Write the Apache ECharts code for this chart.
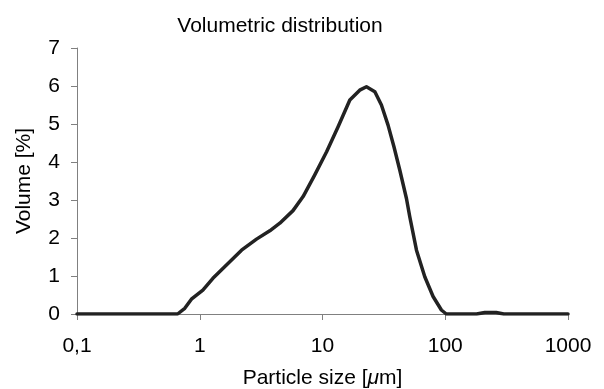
<!DOCTYPE html>
<html>
<head>
<meta charset="utf-8">
<script src="https://cdn.jsdelivr.net/npm/echarts@6/dist/echarts.min.js"></script>
<style>html,body{margin:0;padding:0;background:#fff}#c{width:604px;height:389px}</style>
</head>
<body>
<div id="c"></div>
<script>
const sizes = [0.1, 0.66, 0.755, 0.855, 1.06, 1.28, 1.65, 2.19, 2.9, 3.72, 4.49, 5.75, 6.95, 8.65, 10.8, 13.4, 16.7, 20.1, 22.8, 26.7, 30.2, 34.2, 38.2, 42.6, 48.3, 51.4, 58.3, 68.1, 79.6, 93, 102, 180, 210, 260, 300, 1000];
const volumes = [0, 0, 0.15, 0.39, 0.63, 0.94, 1.29, 1.68, 1.97, 2.19, 2.39, 2.72, 3.09, 3.66, 4.27, 4.93, 5.63, 5.89, 5.98, 5.85, 5.5, 4.97, 4.40, 3.79, 3.04, 2.56, 1.68, 0.98, 0.46, 0.105, 0, 0, 0.04, 0.04, 0, 0];
const xTicks = [0.1, 1, 10, 100, 1000];
const titleText = 'Volumetric distribution';
const xName = 'Particle size [{i|μ}m]';
const yName = 'Volume [%]';

const chart = echarts.init(document.getElementById('c'), null, {renderer: 'canvas'});
const font = 'Liberation Sans, Arial, sans-serif';
const fs = 21;
chart.setOption({
  animation: false,
  title: {
    text: titleText, left: 275, top: 11, textAlign: 'center',
    textStyle: {fontFamily: font, fontSize: fs, fontWeight: 'normal', color: '#000'}
  },
  grid: {left: 77, right: 36, top: 48, bottom: 75, containLabel: false, outerBoundsMode: 'none'},
  xAxis: {
    type: 'log', logBase: 10, min: xTicks[0], max: xTicks[xTicks.length - 1],
    name: xName, nameLocation: 'middle', nameGap: 54,
    nameTextStyle: {fontFamily: font, fontSize: fs, color: '#000', rich: {i: {fontStyle: 'italic', fontFamily: font, fontSize: fs, color: '#000'}}},
    axisLine: {onZero: false, lineStyle: {color: '#808080', width: 1}},
    axisTick: {show: true, inside: false, length: 6, lineStyle: {color: '#808080'}},
    minorTick: {show: false},
    splitLine: {show: false},
    axisLabel: {
      fontFamily: font, fontSize: fs, color: '#000', margin: 22,
      formatter: v => String(parseFloat(Number(v).toPrecision(6))).replace('.', ',')
    }
  },
  yAxis: {
    type: 'value', min: 0, max: 7, interval: 1,
    name: yName, nameLocation: 'middle', nameGap: 42, nameRotate: 90,
    nameTextStyle: {fontFamily: font, fontSize: fs, color: '#000'},
    axisLine: {show: true, lineStyle: {color: '#808080', width: 1}},
    axisTick: {show: true, inside: false, length: 6, lineStyle: {color: '#808080'}},
    splitLine: {show: false},
    axisLabel: {fontFamily: font, fontSize: fs, color: '#000', margin: 17}
  },
  series: [{
    type: 'line',
    data: sizes.map((s, i) => [s, volumes[i]]),
    showSymbol: false,
    smooth: false,
    lineStyle: {color: '#222', width: 3.5, join: 'round', cap: 'round'}
  }]
});
</script>
</body>
</html>
